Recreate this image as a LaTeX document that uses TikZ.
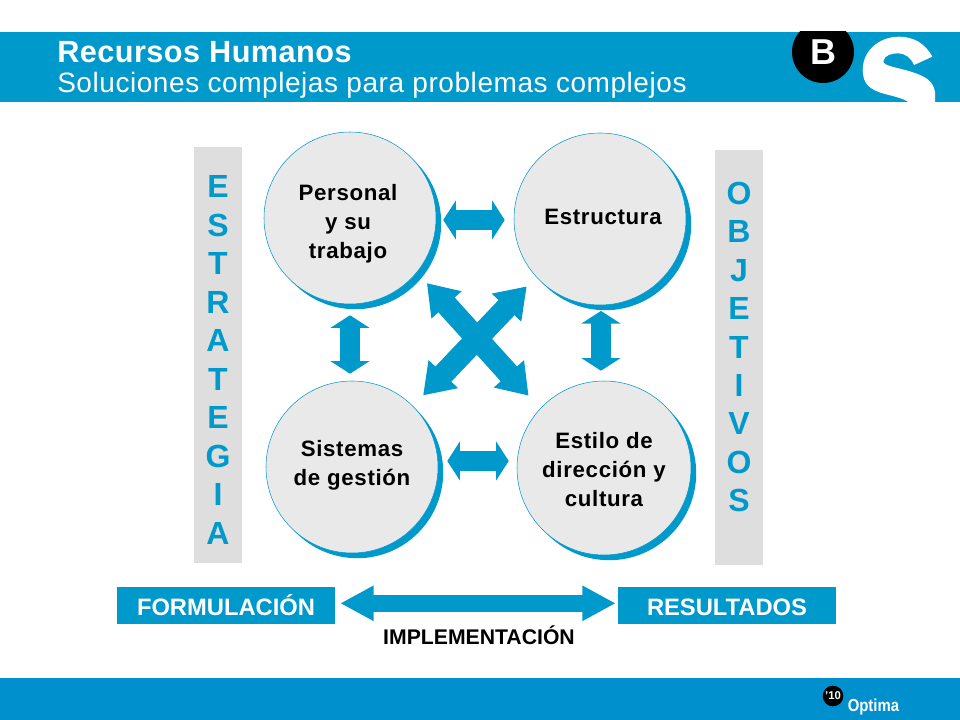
\documentclass[tikz,border=0pt]{standalone}
\usepackage{fontspec}
\setmainfont{Liberation Sans}
\usetikzlibrary{arrows.meta,shadows}
\definecolor{sblue}{HTML}{0099CC}
\definecolor{sfoot}{HTML}{0090CE}
\definecolor{circfill}{HTML}{E9E9E9}
\definecolor{sidegray}{HTML}{DEDEDE}
\newfontfamily\spacedbold[LetterSpace=3]{Liberation Sans Bold}
\newfontfamily\titlebold[LetterSpace=1.5]{Liberation Sans Bold}
\newfontfamily\subreg[LetterSpace=2]{Liberation Sans}
\newfontfamily\optimafont[FakeStretch=0.86]{Liberation Sans Bold}
\tikzset{
  ball/.style={circle,draw=sblue,line width=0.4pt,fill=circfill,inner sep=0pt,
    drop shadow={shadow xshift=3.9pt,shadow yshift=-3.9pt,fill=sblue,opacity=1}},
  balltext/.style={inner sep=0pt,align=center,font=\fontsize{16.7}{21.75}\selectfont\spacedbold},
  sidebar/.style={fill=sidegray,inner sep=0pt,minimum width=36pt},
  sideletters/.style={inner sep=0pt,align=center,text=sblue,
    font=\fontsize{24}{28.85}\selectfont\bfseries},
  endbox/.style={fill=sblue,text=white,inner sep=0pt,minimum width=163.5pt,minimum height=27.75pt,
    text height=15pt,text depth=0pt,font=\fontsize{17.8}{20}\selectfont\bfseries},
  biarrow/.style={draw=sblue,line width=15pt,{Triangle[length=9.5pt,width=29pt]}-{Triangle[length=9.5pt,width=29pt]}},
  xarrow/.style={draw=sblue,line width=16.5pt,{Triangle[length=22pt,width=29pt]}-{Triangle[length=22pt,width=29pt]}},
  longarrow/.style={draw=sblue,line width=12.5pt,{Triangle[length=25pt,width=24.75pt]}-{Triangle[length=25pt,width=24.75pt]}}
}
\begin{document}
\begin{tikzpicture}[x=0.75pt,y=-0.75pt]
\useasboundingbox (0,0) rectangle (960,720);
% bands
\fill[sblue] (0,32) rectangle (960,102);
\fill[sfoot] (0,678) rectangle (960,720);
% logo
\begin{scope}
\clip (0,32) rectangle (960,102);
\fill[black] (823,52) circle (31);
\fill[white] (932.3,56.7) .. controls (925,43) and (913,36.7) .. (899,36.7)
  .. controls (880,36.7) and (862.7,50) .. (862.7,70)
  .. controls (862.7,84) and (870,90) .. (885,94)
  .. controls (897,97) and (904,99) .. (908.3,102)
  -- (935,102) -- (935,92)
  .. controls (933,80) and (924,76) .. (912,72)
  .. controls (900,68) and (883,66) .. (883.3,61.5)
  .. controls (884,55) and (892,53.3) .. (898.3,53.3)
  .. controls (905,53.3) and (911,58) .. (914,65) -- cycle;
\end{scope}
\node[text=white,font=\fontsize{27}{27}\selectfont\bfseries,inner sep=0pt] (bank) at (823.5,52) {B};
\node[anchor=west,text=white,inner sep=0pt,font=\fontsize{23}{24}\selectfont\titlebold] (title) at (57,52.5) {Recursos Humanos};
\node[anchor=west,text=white,inner sep=0pt,font=\fontsize{21}{24}\selectfont\subreg] (subtitle) at (57,85.5) {Soluciones complejas para problemas complejos};
% sidebars
\node[sidebar,minimum height=312pt] (estrategia) at (218,355) {};
\node[sideletters] (estrategiatext) at (218,360) {E\\S\\T\\R\\A\\T\\E\\G\\I\\A};
\node[sidebar,minimum height=311.25pt] (objetivos) at (739,357.5) {};
\node[sideletters] (objetivostext) at (739,347) {O\\B\\J\\E\\T\\I\\V\\O\\S};
% circles
\node[ball,minimum size=129pt] (personal) at (350,218) {};
\node[ball,minimum size=129pt] (estructura) at (600,219) {};
\node[ball,minimum size=129pt] (sistemas) at (352,467) {};
\node[ball,minimum size=130.5pt] (estilo) at (604,468) {};
\node[balltext] (personaltext) at (348,224) {Personal\\y su\\trabajo};
\node[balltext] (estructuratext) at (603,217) {Estructura};
\node[balltext] (sistemastext) at (352,465) {Sistemas\\de gestión};
\node[balltext] (estilotext) at (604,470) {Estilo de\\dirección y\\cultura};
% axis lines of the arrows
\coordinate (topline) at (0,220);
\coordinate (lowline) at (0,461);
\coordinate (leftline) at (350,0);
\coordinate (rightline) at (601,0);
\coordinate (baseline) at (0,603.3);
% arrows between circles
\draw[biarrow,shorten <=5.25pt,shorten >=6.75pt] (personal.east |- topline) -- (estructura.west |- topline);
\draw[biarrow,shorten <=6.75pt,shorten >=6pt] (sistemas.east |- lowline) -- (estilo.west |- lowline);
\draw[biarrow,shorten <=8.25pt,shorten >=5.25pt] (personal.south -| leftline) -- (sistemas.north -| leftline);
\draw[biarrow,shorten <=4.25pt,shorten >=7.5pt] (estructura.south -| rightline) -- (estilo.north -| rightline);
\draw[xarrow,shorten <=11pt,shorten >=13pt] (personal.-39) -- (estilo.137);
\draw[xarrow,shorten <=10pt,shorten >=11pt] (estructura.222.6) -- (sistemas.45.7);
% bottom row
\node[endbox] (formulacion) at (226,605.5) {FORMULACIÓN};
\node[endbox] (resultados) at (727,605.5) {RESULTADOS};
\draw[longarrow,shorten <=3.75pt,shorten >=1.5pt] (formulacion.east |- baseline) -- (resultados.west |- baseline);
\node[font=\fontsize{15.9}{18}\selectfont\bfseries,inner sep=0pt] (impl) at (479,635.5) {IMPLEMENTACIÓN};
% Optima
\node[circle,fill=black,text=white,inner sep=0pt,minimum size=15.5pt,font=\fontsize{8.5}{9}\selectfont\bfseries] (year) at (833,696) {'10};
\node[anchor=west,text=white,inner sep=0pt,font=\fontsize{13}{13}\selectfont\optimafont] (optima) at (847.5,707.5) {Optima};
\end{tikzpicture}
\end{document}
